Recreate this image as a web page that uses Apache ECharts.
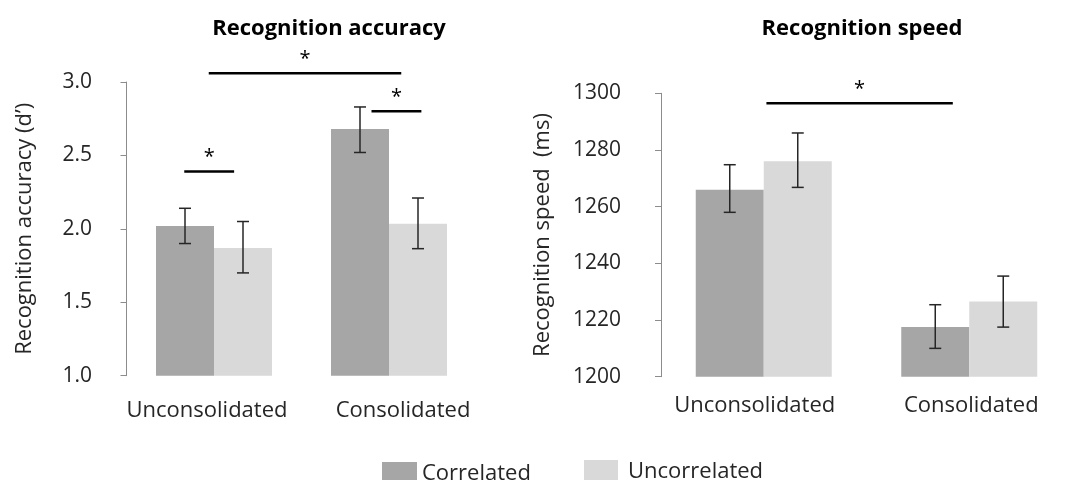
<!DOCTYPE html>
<html>
<head>
<meta charset="utf-8">
<script src="https://cdn.jsdelivr.net/npm/echarts@6/dist/echarts.min.js"></script>
<style>
  html, body { margin: 0; padding: 0; background: #fff; }
  #chart { width: 1072px; height: 480px; }
</style>
</head>
<body>
<div id="chart"></div>
<script>
// Categories and series
const categories = ['Unconsolidated', 'Consolidated'];
const seriesNames = ['Correlated', 'Uncorrelated'];

// Recognition accuracy (d')
const accuracyCorrelated = [2.02, 2.68];
const accuracyUncorrelated = [1.87, 2.035];
const accuracyCorrelatedLow = [1.90, 2.52];
const accuracyCorrelatedHigh = [2.14, 2.83];
const accuracyUncorrelatedLow = [1.70, 1.865];
const accuracyUncorrelatedHigh = [2.05, 2.21];

// Recognition speed (ms)
const speedCorrelated = [1266, 1217.5];
const speedUncorrelated = [1276, 1226.5];
const speedCorrelatedLow = [1258, 1210];
const speedCorrelatedHigh = [1274.8, 1225.4];
const speedUncorrelatedLow = [1266.8, 1217.5];
const speedUncorrelatedHigh = [1286, 1235.5];

// Axis ranges
const accuracyAxis = { min: 1.0, max: 3.0, interval: 0.5 };
const speedAxis = { min: 1200, max: 1300, interval: 20 };

// Significance brackets: x in category-band units (0..2), y in data units
const accuracyBrackets = [
  { x0: 0.47, x1: 1.57, y: 3.06 },
  { x0: 1.40, x1: 1.685, y: 2.80 },
  { x0: 0.33, x1: 0.615, y: 2.39 }
];
const speedBrackets = [
  { x0: 0.513, x1: 1.42, y: 1296.5 }
];

const FONT = '"Open Sans", sans-serif';
const DARK = '#a6a6a6';
const LIGHT = '#d9d9d9';
const TEXT = '#262626';

const chart = echarts.init(document.getElementById('chart'), null, { renderer: 'canvas' });

function errorData(low, high, sign) {
  return low.map((l, i) => [i, l, high[i], sign]);
}

function errorSeries(gridIdx, barWidth, low, high, sign) {
  return {
    type: 'custom',
    xAxisIndex: gridIdx * 2,
    yAxisIndex: gridIdx,
    silent: true,
    z: 10,
    encode: { x: 0, y: [1, 2] },
    data: errorData(low, high, sign),
    renderItem: function (params, api) {
      const lo = api.coord([api.value(0), api.value(1)]);
      const hi = api.coord([api.value(0), api.value(2)]);
      const x = lo[0] + api.value(3) * barWidth / 2;
      const cap = 6;
      const style = { stroke: TEXT, lineWidth: 1.5 };
      return {
        type: 'group',
        children: [
          { type: 'line', shape: { x1: x, y1: lo[1], x2: x, y2: hi[1] }, style },
          { type: 'line', shape: { x1: x - cap, y1: lo[1], x2: x + cap, y2: lo[1] }, style },
          { type: 'line', shape: { x1: x - cap, y1: hi[1], x2: x + cap, y2: hi[1] }, style }
        ]
      };
    }
  };
}

function bracketSeries(gridIdx, brackets) {
  return {
    type: 'custom',
    xAxisIndex: gridIdx * 2 + 1,
    yAxisIndex: gridIdx,
    silent: true,
    clip: false,
    z: 10,
    encode: { x: [0, 1], y: 2 },
    data: brackets.map(b => [b.x0, b.x1, b.y]),
    renderItem: function (params, api) {
      const a = api.coord([api.value(0), api.value(2)]);
      const b = api.coord([api.value(1), api.value(2)]);
      return {
        type: 'group',
        children: [
          { type: 'line', shape: { x1: a[0], y1: a[1], x2: b[0], y2: b[1] },
            style: { stroke: '#000', lineWidth: 2.5 } },
          { type: 'text', x: (a[0] + b[0]) / 2, y: a[1] - 4,
            style: { text: '*', fill: '#000', font: '20px ' + FONT,
                     align: 'center', verticalAlign: 'bottom' } }
        ]
      };
    }
  };
}

function yAxisFor(gridIdx, range, name, nameGap, offset, margin, decimals) {
  return {
    type: 'value',
    gridIndex: gridIdx,
    min: range.min,
    max: range.max,
    interval: range.interval,
    offset: offset,
    name: name,
    nameLocation: 'middle',
    nameGap: nameGap,
    nameTextStyle: { fontFamily: FONT, fontSize: 22, color: TEXT },
    axisLine: { show: true, lineStyle: { color: '#8c8c8c', width: 1 } },
    axisTick: { show: true, length: 6, lineStyle: { color: '#8c8c8c' } },
    splitLine: { show: false },
    axisLabel: {
      fontFamily: FONT, fontSize: 21, color: TEXT, margin: margin,
      formatter: v => v.toFixed(decimals)
    }
  };
}

// Category labels sit slightly off the band centres; padding nudges each one
function catAxis(gridIdx, margin, paddings) {
  const rich = {};
  paddings.forEach((p, i) => {
    rich['c' + i] = { fontFamily: FONT, fontSize: 22, color: TEXT, padding: p };
  });
  return {
    type: 'category',
    gridIndex: gridIdx,
    data: categories,
    axisLine: { show: false },
    axisTick: { show: false },
    axisLabel: {
      fontFamily: FONT, fontSize: 22, color: TEXT, margin: margin, interval: 0,
      formatter: (v, i) => '{c' + i + '|' + v + '}',
      rich: rich
    }
  };
}

function bandAxis(gridIdx) {
  return { type: 'value', gridIndex: gridIdx, min: 0, max: 2, show: false };
}

const accBarW = 58;
const spdBarW = 68;

const option = {
  backgroundColor: '#fff',
  animation: false,
  title: [
    { text: 'Recognition accuracy', left: 324, top: 13, textAlign: 'center',
      textStyle: { fontFamily: FONT, fontSize: 22, fontWeight: 'bold', color: '#000' } },
    { text: 'Recognition speed', left: 857, top: 13, textAlign: 'center',
      textStyle: { fontFamily: FONT, fontSize: 22, fontWeight: 'bold', color: '#000' } }
  ],
  legend: [
    { data: [seriesNames[0]], left: 377, top: 457, itemWidth: 35, itemHeight: 23,
      icon: 'rect', selectedMode: false,
      textStyle: { fontFamily: FONT, fontSize: 22, color: TEXT } },
    { data: [seriesNames[1]], left: 579, top: 455, itemWidth: 34, itemHeight: 23,
      icon: 'rect', selectedMode: false,
      textStyle: { fontFamily: FONT, fontSize: 22, color: TEXT, padding: [0, 0, 0, 5] } }
  ],
  grid: [
    { left: 126.5, top: 82, width: 350, height: 293.7 },
    { left: 661, top: 93.3, width: 412, height: 283.4 }
  ],
  xAxis: [
    catAxis(0, 24, [[0, 14, 0, 0], [0, 0, 0, 28]]),
    bandAxis(0),
    catAxis(1, 18, [[0, 18, 0, 0], [0, 0, 0, 4]]),
    bandAxis(1)
  ],
  yAxis: [
    yAxisFor(0, accuracyAxis, 'Recognition accuracy (d\u2019)', 75, 15.5, 19, 1),
    yAxisFor(1, speedAxis, 'Recognition speed  (ms)', 92, 15, 25, 0)
  ],
  series: [
    { name: seriesNames[0], type: 'bar', xAxisIndex: 0, yAxisIndex: 0,
      data: accuracyCorrelated, barWidth: accBarW, barGap: '0%',
      itemStyle: { color: DARK } },
    { name: seriesNames[1], type: 'bar', xAxisIndex: 0, yAxisIndex: 0,
      data: accuracyUncorrelated, barWidth: accBarW, barGap: '0%',
      itemStyle: { color: LIGHT } },
    { name: seriesNames[0], type: 'bar', xAxisIndex: 2, yAxisIndex: 1,
      data: speedCorrelated, barWidth: spdBarW, barGap: '0%',
      itemStyle: { color: DARK } },
    { name: seriesNames[1], type: 'bar', xAxisIndex: 2, yAxisIndex: 1,
      data: speedUncorrelated, barWidth: spdBarW, barGap: '0%',
      itemStyle: { color: LIGHT } },
    errorSeries(0, accBarW, accuracyCorrelatedLow, accuracyCorrelatedHigh, -1),
    errorSeries(0, accBarW, accuracyUncorrelatedLow, accuracyUncorrelatedHigh, 1),
    errorSeries(1, spdBarW, speedCorrelatedLow, speedCorrelatedHigh, -1),
    errorSeries(1, spdBarW, speedUncorrelatedLow, speedUncorrelatedHigh, 1),
    bracketSeries(0, accuracyBrackets),
    bracketSeries(1, speedBrackets)
  ]
};

chart.setOption(option);
</script>
</body>
</html>
